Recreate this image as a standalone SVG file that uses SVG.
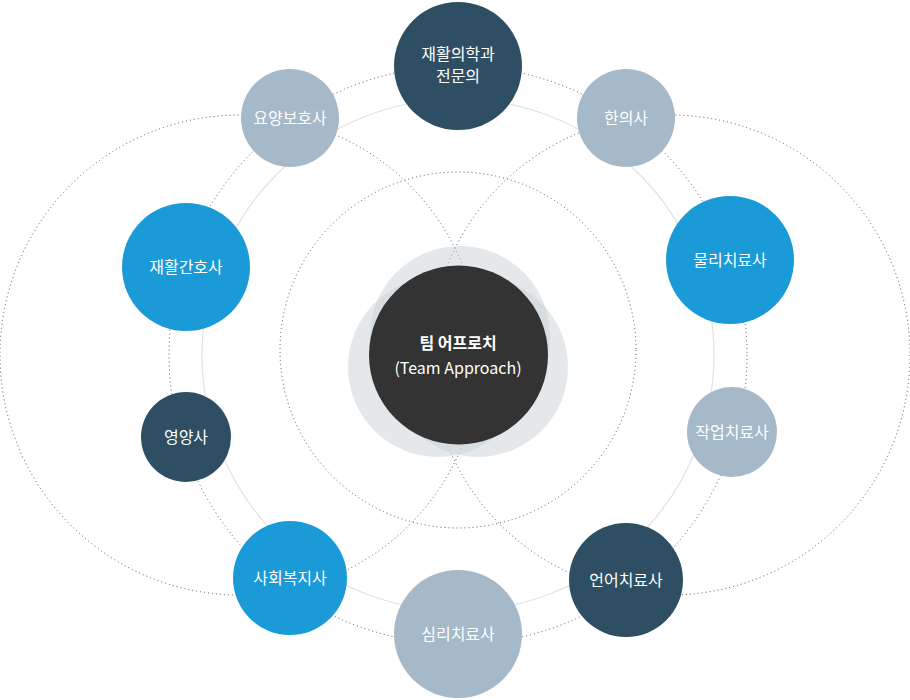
<svg xmlns="http://www.w3.org/2000/svg" width="910" height="700" viewBox="0 0 910 700">
<style>
.dot{fill:none;stroke:#555;stroke-width:1;stroke-dasharray:1 3}
.sol{fill:none;stroke:#e2e2e2;stroke-width:1.2}
.halo{fill:#c9d1d8;opacity:0.5}
.dk{fill:#2e4f63}.lt{fill:#a5b9c9}.bl{fill:#1a9ad6}
text{font-family:"Noto Sans CJK KR","Noto Sans",sans-serif;fill:#fff;text-anchor:middle;font-size:16px}
</style>
<rect width="910" height="700" fill="#fff"/>
<g id="connectors">
<circle class="sol" cx="458" cy="355" r="256"/>
<circle class="dot" cx="458" cy="355" r="289"/>
<circle class="dot" cx="458" cy="350" r="178"/>
<circle class="dot" cx="240" cy="355" r="240"/>
<circle class="dot" cx="670" cy="355" r="240"/>
</g>
<g id="center">
<circle class="halo" cx="460" cy="336" r="90"/>
<circle class="halo" cx="438" cy="367" r="90"/>
<circle class="halo" cx="478" cy="367" r="90"/>
<circle cx="458.5" cy="355" r="89.5" fill="#333"/>
<text x="458" y="349" font-size="18" font-weight="bold">팀 어프로치</text>
<text x="458" y="374" font-size="16">(Team Approach)</text>
</g>
<g id="n1"><circle class="dk" cx="458" cy="66" r="64"/><text x="458" y="60">재활의학과</text><text x="458" y="82">전문의</text></g>
<g id="n2"><circle class="lt" cx="290" cy="118" r="49"/><text x="290" y="124">요양보호사</text></g>
<g id="n3"><circle class="lt" cx="626" cy="118" r="49"/><text x="626" y="124">한의사</text></g>
<g id="n4"><circle class="bl" cx="186" cy="267" r="64"/><text x="186" y="273">재활간호사</text></g>
<g id="n5"><circle class="bl" cx="730" cy="260" r="64"/><text x="730" y="266">물리치료사</text></g>
<g id="n6"><circle class="dk" cx="186" cy="437" r="45"/><text x="186" y="443">영양사</text></g>
<g id="n7"><circle class="lt" cx="732" cy="432" r="45"/><text x="732" y="438">작업치료사</text></g>
<g id="n8"><circle class="bl" cx="290" cy="578" r="57"/><text x="290" y="584">사회복지사</text></g>
<g id="n9"><circle class="dk" cx="626" cy="580" r="57"/><text x="626" y="586">언어치료사</text></g>
<g id="n10"><circle class="lt" cx="458" cy="634" r="64"/><text x="458" y="640">심리치료사</text></g>
</svg>
